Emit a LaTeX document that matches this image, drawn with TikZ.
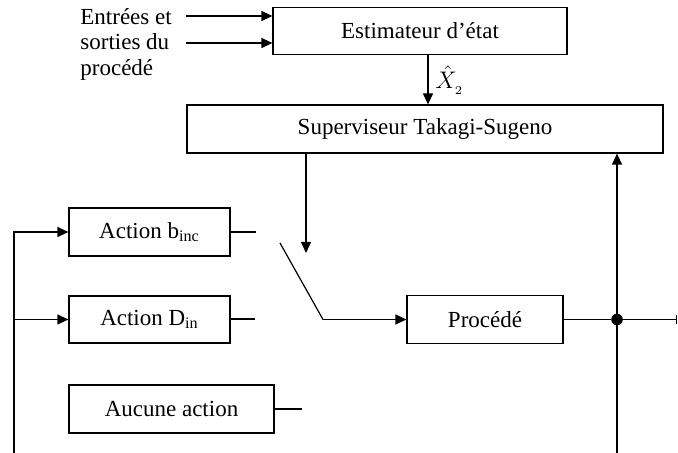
\documentclass[tikz,border=0pt]{standalone}
\usepackage{fontspec}
\setmainfont{Liberation Serif}
\usepackage{amsmath}
\usetikzlibrary{positioning,calc,arrows.meta}

\begin{document}
\begin{tikzpicture}[
    x=0.5pt, y=-0.5pt,
    blk/.style={draw, line width=0.6pt, inner sep=0pt, font=\fontsize{11.5}{13}\selectfont},
    wire/.style={line width=0.6pt},
    arr/.style={wire, -{Triangle[length=5.5pt, width=5pt]}},
    txt/.style={font=\fontsize{11.5}{12.75}\selectfont, inner sep=0pt},
]
\useasboundingbox (0,0) rectangle (678,453);
% blocs
\node[blk, minimum width=147pt, minimum height=23.5pt] (est) at (420, 31) {Estimateur d'état};
\node[blk, minimum width=238pt, minimum height=24pt] (sup) at (425, 129) {Superviseur Takagi-Sugeno};
\node[blk, minimum width=80.5pt, minimum height=24pt] (actb) at (149.5, 232) {Action b\textsubscript{inc}};
\node[blk, minimum width=80.5pt, minimum height=23.5pt] (actd) at (149.5, 319.5) {Action D\textsubscript{in}};
\node[blk, minimum width=102.5pt, minimum height=24pt] (none) at (171.5, 409) {Aucune action};
\node[blk, minimum width=78pt, minimum height=24pt] (proc) at (485, 319.5) {Procédé};
\node[txt, anchor=north west, align=left] (inp) at (80, 8) {Entrées et\\sorties du\\procédé};
% entrees de l'estimateur
\coordinate (in1) at (186, 16);
\coordinate (in2) at (186, 43);
\draw[arr] (in1) -- (in1 -| est.west);
\draw[arr] (in2) -- (in2 -| est.west);
\coordinate (xh) at (428, 54);
\draw[arr] (xh) -- (xh |- sup.north);
\node[txt, anchor=west] (xlab) at (435, 80) {$\hat{X}_{{}_{2}}$};
% commande du commutateur
\coordinate (swc) at (306, 253);
\draw[arr] (sup.south -| swc) -- (swc);
% sorties des actions
\coordinate (ob) at (256, 232);
\coordinate (od) at (255, 319);
\coordinate (on) at (302, 409);
\draw[wire] (actb.east) -- (ob);
\draw[wire] (actd.east |- od) -- (od);
\draw[wire] (none.east) -- (on);
% commutateur
\coordinate (sw1) at (280, 243);
\coordinate (sw2) at (323, 319.5);
\draw[wire] (sw1) -- (sw2);
\draw[arr] (sw2) -- (proc.west);
% sortie du procede
\node[circle, fill, inner sep=0pt, minimum size=5.8pt] (junc) at (617, 319.5) {};
\coordinate (out) at (677, 319.5);
\draw[wire, -{Bar[width=4.5pt]}] (proc.east) -- (junc) -- (out);
\coordinate (fbR) at (617, 453);
\draw[arr] (fbR) -- (fbR |- sup.south);
% retour vers les actions
\coordinate (fbL) at (14, 453);
\draw[arr] (fbL) |- (actb.west);
\draw[arr] (fbL |- actd.west) -- (actd.west);
\end{tikzpicture}
\end{document}
